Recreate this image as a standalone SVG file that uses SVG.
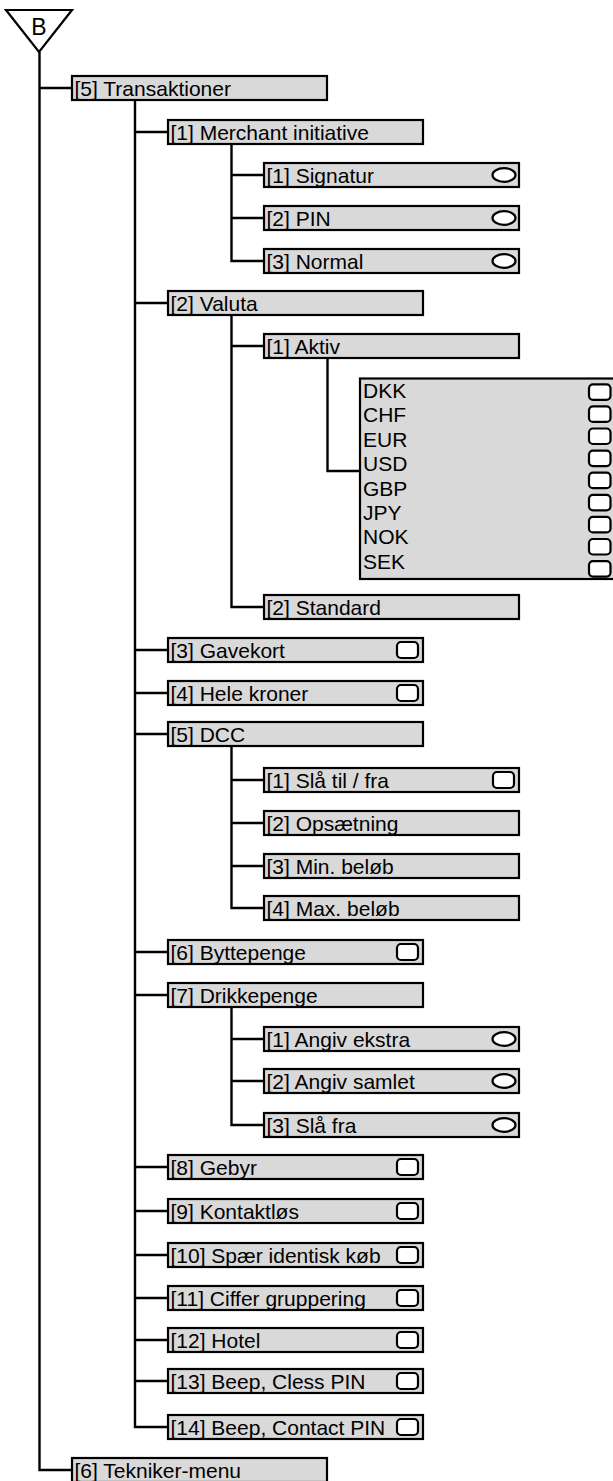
<svg xmlns="http://www.w3.org/2000/svg" width="613" height="1481" viewBox="0 0 613 1481">
<style>
.box{fill:#d9d9d9;stroke:#000;stroke-width:2.2}
.lbl{font-family:"Liberation Sans",Arial,sans-serif;font-size:21px;fill:#000}
.cb{fill:#fff;stroke:#000;stroke-width:2.2}
.conn{fill:none;stroke:#000;stroke-width:2.4}
</style>
<rect width="613" height="1481" fill="#fff"/>
<g id="connectors" class="conn">
<path d="M39.5 52 V1470 H72 M39.5 88 H72"/>
<path d="M135 101 V1427 H168 M135 132 H168 M135 303 H168 M135 650 H168 M135 693 H168 M135 734 H168 M135 952 H168 M135 995 H168 M135 1167 H168 M135 1211 H168 M135 1255 H168 M135 1298 H168 M135 1340 H168 M135 1381 H168"/>
<path d="M231.5 145 V261 H264 M231.5 175 H264 M231.5 218 H264"/>
<path d="M231.5 316 V607 H264 M231.5 346 H264"/>
<path d="M327.5 359 V471 H360"/>
<path d="M231.5 747 V908 H264 M231.5 780 H264 M231.5 823 H264 M231.5 866 H264"/>
<path d="M231.5 1008 V1125 H264 M231.5 1039 H264 M231.5 1081 H264"/>
</g>
<g id="start">
<polygon points="6,10 72,10 39,52" fill="#fff" stroke="#000" stroke-width="2.2"/>
<text x="39" y="35" text-anchor="middle" font-family="Liberation Sans,Arial,sans-serif" font-size="23">B</text>
</g>
<g id="n-transaktioner"><rect class="box" x="72" y="76" width="255" height="24"/><text class="lbl" x="74.5" y="95.5">[5] Transaktioner</text></g>
<g id="n-merchant"><rect class="box" x="168" y="120" width="255" height="24"/><text class="lbl" x="170.5" y="139.5">[1] Merchant initiative</text></g>
<g id="n-signatur"><rect class="box" x="264" y="163" width="255" height="24"/><text class="lbl" x="266.5" y="182.5">[1] Signatur</text><ellipse class="cb" cx="504" cy="175" rx="11.5" ry="6.8"/></g>
<g id="n-pin"><rect class="box" x="264" y="206" width="255" height="24"/><text class="lbl" x="266.5" y="225.5">[2] PIN</text><ellipse class="cb" cx="504" cy="218" rx="11.5" ry="6.8"/></g>
<g id="n-normal"><rect class="box" x="264" y="249" width="255" height="24"/><text class="lbl" x="266.5" y="268.5">[3] Normal</text><ellipse class="cb" cx="504" cy="261" rx="11.5" ry="6.8"/></g>
<g id="n-valuta"><rect class="box" x="168" y="291" width="255" height="24"/><text class="lbl" x="170.5" y="310.5">[2] Valuta</text></g>
<g id="n-aktiv"><rect class="box" x="264" y="334" width="255" height="24"/><text class="lbl" x="266.5" y="353.5">[1] Aktiv</text></g>
<g id="n-currencies">
<rect class="box" x="360" y="378.5" width="270" height="200.5"/>
<text class="lbl" x="363" y="398">DKK</text>
<text class="lbl" x="363" y="422.4">CHF</text>
<text class="lbl" x="363" y="446.8">EUR</text>
<text class="lbl" x="363" y="471.2">USD</text>
<text class="lbl" x="363" y="495.6">GBP</text>
<text class="lbl" x="363" y="520">JPY</text>
<text class="lbl" x="363" y="544.4">NOK</text>
<text class="lbl" x="363" y="568.8">SEK</text>
<rect class="cb" x="589" y="384.3" width="21.5" height="15.5" rx="4"/>
<rect class="cb" x="589" y="406.4" width="21.5" height="15.5" rx="4"/>
<rect class="cb" x="589" y="428.5" width="21.5" height="15.5" rx="4"/>
<rect class="cb" x="589" y="450.6" width="21.5" height="15.5" rx="4"/>
<rect class="cb" x="589" y="472.7" width="21.5" height="15.5" rx="4"/>
<rect class="cb" x="589" y="494.8" width="21.5" height="15.5" rx="4"/>
<rect class="cb" x="589" y="516.9" width="21.5" height="15.5" rx="4"/>
<rect class="cb" x="589" y="539" width="21.5" height="15.5" rx="4"/>
<rect class="cb" x="589" y="561.1" width="21.5" height="15.5" rx="4"/>
</g>
<g id="n-standard"><rect class="box" x="264" y="595" width="255" height="24"/><text class="lbl" x="266.5" y="614.5">[2] Standard</text></g>
<g id="n-gavekort"><rect class="box" x="168" y="638" width="255" height="24"/><text class="lbl" x="170.5" y="657.5">[3] Gavekort</text><rect class="cb" x="397" y="642" width="21" height="16" rx="4"/></g>
<g id="n-hele"><rect class="box" x="168" y="681" width="255" height="24"/><text class="lbl" x="170.5" y="700.5">[4] Hele kroner</text><rect class="cb" x="397" y="685" width="21" height="16" rx="4"/></g>
<g id="n-dcc"><rect class="box" x="168" y="722" width="255" height="24"/><text class="lbl" x="170.5" y="741.5">[5] DCC</text></g>
<g id="n-slatil"><rect class="box" x="264" y="768" width="255" height="24"/><text class="lbl" x="266.5" y="787.5">[1] Slå til / fra</text><rect class="cb" x="493" y="772" width="21" height="16" rx="4"/></g>
<g id="n-opsaetning"><rect class="box" x="264" y="811" width="255" height="24"/><text class="lbl" x="266.5" y="830.5">[2] Opsætning</text></g>
<g id="n-min"><rect class="box" x="264" y="854" width="255" height="24"/><text class="lbl" x="266.5" y="873.5">[3] Min. beløb</text></g>
<g id="n-max"><rect class="box" x="264" y="896" width="255" height="24"/><text class="lbl" x="266.5" y="915.5">[4] Max. beløb</text></g>
<g id="n-bytte"><rect class="box" x="168" y="940" width="255" height="24"/><text class="lbl" x="170.5" y="959.5">[6] Byttepenge</text><rect class="cb" x="397" y="944" width="21" height="16" rx="4"/></g>
<g id="n-drikke"><rect class="box" x="168" y="983" width="255" height="24"/><text class="lbl" x="170.5" y="1002.5">[7] Drikkepenge</text></g>
<g id="n-ekstra"><rect class="box" x="264" y="1027" width="255" height="24"/><text class="lbl" x="266.5" y="1046.5">[1] Angiv ekstra</text><ellipse class="cb" cx="504" cy="1039" rx="11.5" ry="6.8"/></g>
<g id="n-samlet"><rect class="box" x="264" y="1069" width="255" height="24"/><text class="lbl" x="266.5" y="1088.5">[2] Angiv samlet</text><ellipse class="cb" cx="504" cy="1081" rx="11.5" ry="6.8"/></g>
<g id="n-slafra"><rect class="box" x="264" y="1113" width="255" height="24"/><text class="lbl" x="266.5" y="1132.5">[3] Slå fra</text><ellipse class="cb" cx="504" cy="1125" rx="11.5" ry="6.8"/></g>
<g id="n-gebyr"><rect class="box" x="168" y="1155" width="255" height="24"/><text class="lbl" x="170.5" y="1174.5">[8] Gebyr</text><rect class="cb" x="397" y="1159" width="21" height="16" rx="4"/></g>
<g id="n-kontakt"><rect class="box" x="168" y="1199" width="255" height="24"/><text class="lbl" x="170.5" y="1218.5">[9] Kontaktløs</text><rect class="cb" x="397" y="1203" width="21" height="16" rx="4"/></g>
<g id="n-spaer"><rect class="box" x="168" y="1243" width="255" height="24"/><text class="lbl" x="170.5" y="1262.5">[10] Spær identisk køb</text><rect class="cb" x="397" y="1247" width="21" height="16" rx="4"/></g>
<g id="n-ciffer"><rect class="box" x="168" y="1286" width="255" height="24"/><text class="lbl" x="170.5" y="1305.5">[11] Ciffer gruppering</text><rect class="cb" x="397" y="1290" width="21" height="16" rx="4"/></g>
<g id="n-hotel"><rect class="box" x="168" y="1328" width="255" height="24"/><text class="lbl" x="170.5" y="1347.5">[12] Hotel</text><rect class="cb" x="397" y="1332" width="21" height="16" rx="4"/></g>
<g id="n-cless"><rect class="box" x="168" y="1369" width="255" height="24"/><text class="lbl" x="170.5" y="1388.5">[13] Beep, Cless PIN</text><rect class="cb" x="397" y="1373" width="21" height="16" rx="4"/></g>
<g id="n-contact"><rect class="box" x="168" y="1415" width="255" height="24"/><text class="lbl" x="170.5" y="1434.5">[14] Beep, Contact PIN</text><rect class="cb" x="397" y="1419" width="21" height="16" rx="4"/></g>
<g id="n-tekniker"><rect class="box" x="72" y="1458" width="255" height="24"/><text class="lbl" x="74.5" y="1477.5">[6] Tekniker-menu</text></g>
</svg>
